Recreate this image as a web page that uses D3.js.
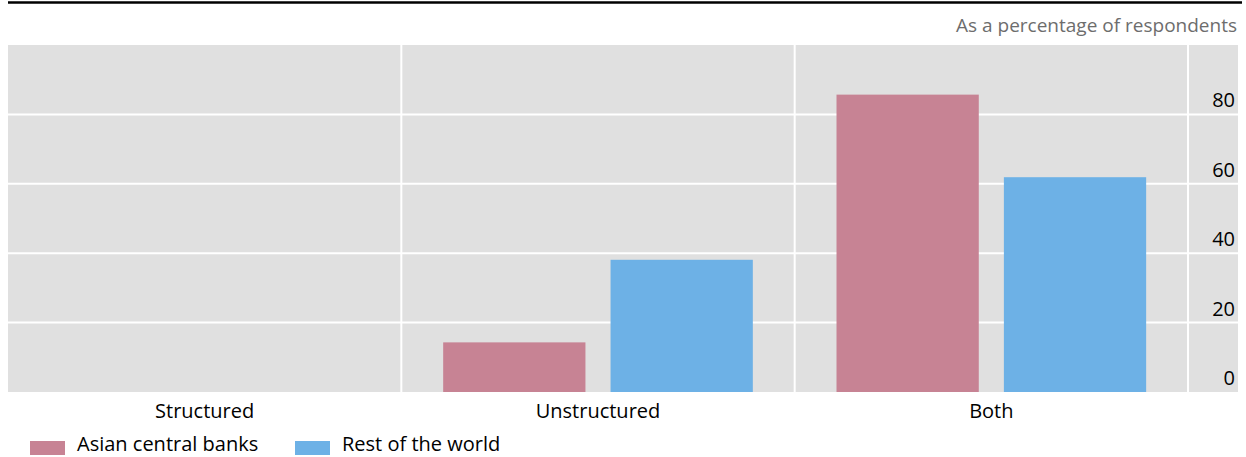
<!DOCTYPE html>
<html>
<head>
<meta charset="utf-8">
<script src="https://cdn.jsdelivr.net/npm/d3@7"></script>
<style>
  body { margin: 0; background: #fff; }
  svg text { font-family: "Open Sans", "Noto Sans", sans-serif; }
</style>
</head>
<body>
<div id="chart"></div>
<script>
'use strict';

const categories = ['Structured', 'Unstructured', 'Both'];
const seriesNames = ['Asian central banks', 'Rest of the world'];
const asianBanks = [0, 14.3, 85.7];
const restOfWorld = [0, 38.1, 61.9];
const yTicks = [0, 20, 40, 60, 80];

const colors = ['#c78394', '#6db1e6'];

let width = 1246,
    height = 457;

let plotLeft = 8, plotRight = 1238, bandRight = 1188,
    plotTop = 45, plotBottom = 392;

let svg = d3.select('#chart')
  .append('svg')
    .attr('width', width)
    .attr('height', height);

// top rule
svg.append('line')
  .attr('x1', 8).attr('x2', 1242)
  .attr('y1', 2.5).attr('y2', 2.5)
  .attr('stroke', '#000')
  .attr('stroke-width', 2.5);

svg.append('text')
  .attr('x', 1237)
  .attr('y', 32)
  .attr('text-anchor', 'end')
  .attr('fill', '#6d6d6d')
  .style('font-size', '19px')
  .text('As a percentage of respondents');

let x0 = d3.scaleBand()
  .domain(categories)
  .range([plotLeft, bandRight]);

let x1 = d3.scaleBand()
  .domain(seriesNames)
  .range([0, x0.bandwidth()])
  .paddingInner(0.15)
  .paddingOuter(0.25);

let y = d3.scaleLinear()
  .domain([0, 100])
  .range([plotBottom, plotTop]);

svg.append('rect')
  .attr('x', plotLeft).attr('y', plotTop)
  .attr('width', plotRight - plotLeft).attr('height', plotBottom - plotTop)
  .attr('fill', '#e0e0e0');

// horizontal grid
svg.append('g')
  .selectAll('line')
  .data(yTicks.filter(d => d > 0))
  .enter().append('line')
    .attr('x1', plotLeft).attr('x2', plotRight)
    .attr('y1', d => y(d)).attr('y2', d => y(d))
    .attr('stroke', '#fff')
    .attr('stroke-width', 2);

// vertical separators
svg.append('g')
  .selectAll('line')
  .data(categories.slice(1).concat(['end']))
  .enter().append('line')
    .attr('x1', d => d === 'end' ? bandRight : x0(d))
    .attr('x2', d => d === 'end' ? bandRight : x0(d))
    .attr('y1', plotTop).attr('y2', plotBottom)
    .attr('stroke', '#fff')
    .attr('stroke-width', 2);

let data = categories.map((c, i) => ({
  category: c,
  values: [asianBanks[i], restOfWorld[i]]
}));

let groups = svg.append('g')
  .selectAll('g')
  .data(data)
  .enter().append('g')
    .attr('transform', d => 'translate(' + x0(d.category) + ',0)');

groups.selectAll('rect')
  .data(d => d.values.map((v, i) => ({ name: seriesNames[i], value: v, i: i })))
  .enter().append('rect')
    .attr('x', d => x1(d.name))
    .attr('y', d => y(d.value))
    .attr('width', x1.bandwidth())
    .attr('height', d => y(0) - y(d.value))
    .attr('fill', d => colors[d.i]);

// y labels on the right, sitting above the gridlines
svg.append('g')
  .selectAll('text')
  .data(yTicks)
  .enter().append('text')
    .attr('x', 1235)
    .attr('y', d => y(d) - 7)
    .attr('text-anchor', 'end')
    .attr('fill', '#000')
    .style('font-size', '20px')
    .text(d => d);

// category labels
svg.append('g')
  .selectAll('text')
  .data(categories)
  .enter().append('text')
    .attr('x', d => x0(d) + x0.bandwidth() / 2)
    .attr('y', 418)
    .attr('text-anchor', 'middle')
    .attr('fill', '#000')
    .style('font-size', '20px')
    .text(d => d);

// legend
let legendX = [30, 295];
let legend = svg.append('g')
  .selectAll('g')
  .data(seriesNames)
  .enter().append('g')
    .attr('transform', (d, i) => 'translate(' + legendX[i] + ',0)');

legend.append('rect')
  .attr('x', 0).attr('y', 441)
  .attr('width', 35).attr('height', 14)
  .attr('fill', (d, i) => colors[i]);

legend.append('text')
  .attr('x', 47)
  .attr('y', 451)
  .attr('fill', '#000')
  .style('font-size', '20px')
  .text(d => d);
</script>
</body>
</html>
